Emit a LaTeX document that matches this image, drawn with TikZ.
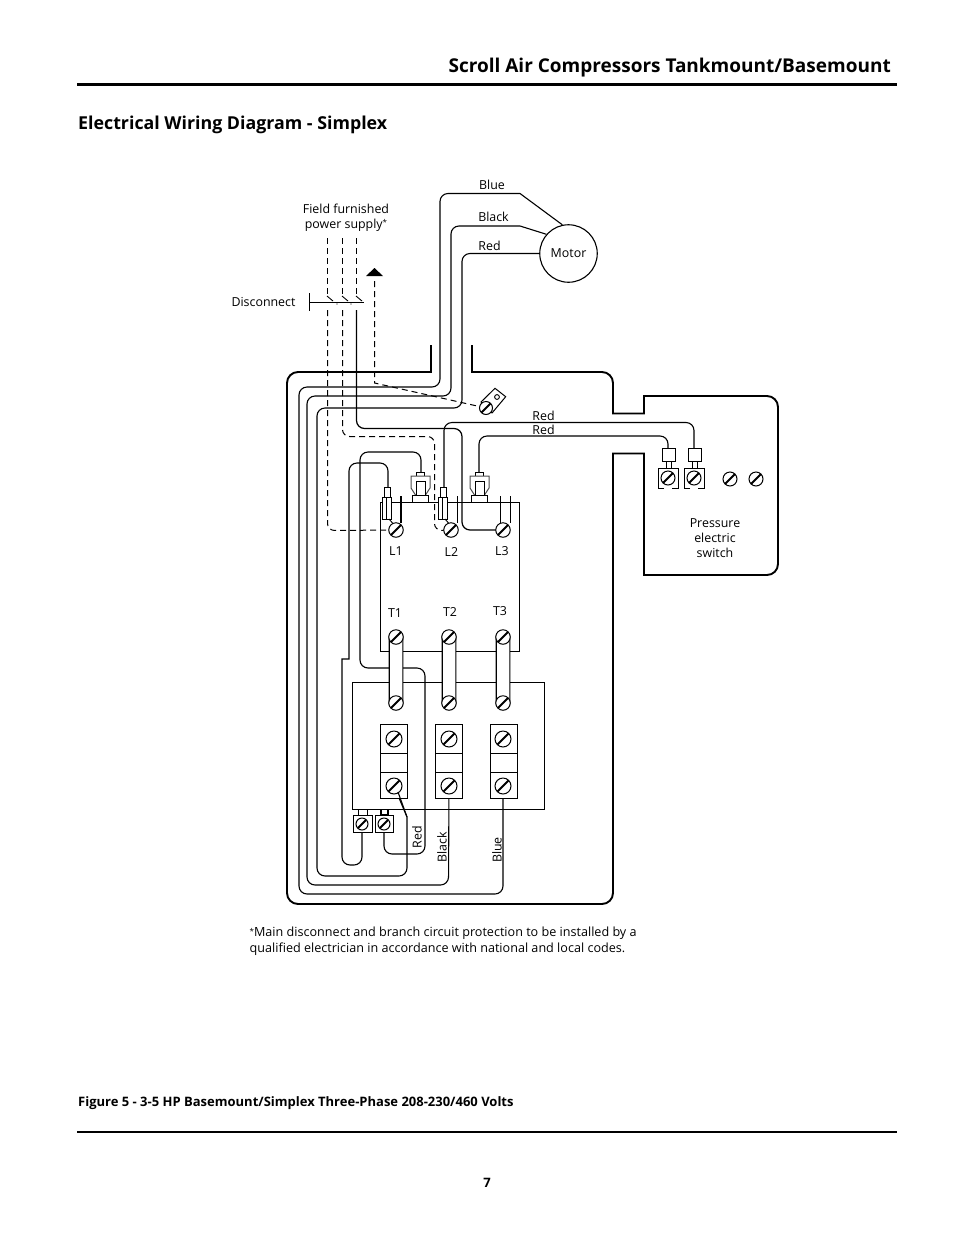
\documentclass[tikz,border=0pt]{standalone}
\usepackage{fontspec}
\setmainfont{Open Sans}
\tikzset{
  lbl/.style={inner sep=0pt,font=\fontsize{12.4}{15}\selectfont,text=black,align=center},
  wire/.style={draw=black,line width=1.1pt,rounded corners=8pt},
  case/.style={draw=black,line width=1.9pt},
  dashw/.style={draw=black,line width=1pt,dash pattern=on 6pt off 4pt,rounded corners=7pt},
  boxl/.style={draw=black,line width=1.1pt},
  blk/.style={draw=black,fill=white,line width=1pt},
  tube/.style={draw=black,fill=white,line width=1.1pt,rounded corners=6.5pt},
  screwh/.style={circle,draw=black,fill=white,line width=1pt,inner sep=0pt,minimum size=#1,
    path picture={\draw[line width=2pt] ([shift={(45:#1/2)}]path picture bounding box.center)
      -- ([shift={(225:#1/2)}]path picture bounding box.center);}},
  screwh/.default=15pt
}
\begin{document}
\begin{tikzpicture}[x=1pt,y=-1pt]
\useasboundingbox (0,0) rectangle (954,1235);
% page furniture
\node[inner sep=0pt,anchor=base east,font=\fontsize{19}{22}\selectfont\bfseries] (title) at (891,72) {Scroll Air Compressors Tankmount/Basemount};
\coordinate (r1a) at (77,84.5); \coordinate (r1b) at (897,84.5);
\draw[line width=2.6pt] (r1a) -- (r1b);
\node[inner sep=0pt,anchor=base west,font=\fontsize{17.8}{20}\selectfont\bfseries] (head) at (78,129.5) {Electrical Wiring Diagram - Simplex};
\node[inner sep=0pt,anchor=base west,font=\fontsize{13}{15}\selectfont\bfseries] (cap) at (78,1106) {Figure 5 - 3-5 HP Basemount/Simplex Three-Phase 208-230/460 Volts};
\coordinate (r2a) at (77,1132); \coordinate (r2b) at (897,1132);
\draw[line width=2.6pt] (r2a) -- (r2b);
\node[inner sep=0pt,font=\fontsize{13}{15}\selectfont\bfseries] (pg) at (487,1183) {7};
\node[inner sep=0pt,anchor=base west,align=left,font=\fontsize{12.6}{15.6}\selectfont] (foot) at (249.5,952.5) {\raisebox{2.5pt}{\fontsize{8}{8}\selectfont *}Main disconnect and branch circuit protection to be installed by a\\qualified electrician in accordance with national and local codes.};
% coordinates of screws
\foreach \n/\x/\y in {sL1/396/530,sL2/451/530,sL3/503/530,sT1/396/637,sT2/449/637,sT3/503/637,
  sB1/396/703,sB2/449/703,sB3/503/703,sU1/394/739,sU2/449/739,sU3/503/739,sD1/394/786,sD2/449/786,sD3/503/786,
  sS1/362/824,sS2/384/824,sP1/668/478,sP2/694/478,sP3/730/479,sP4/756/479,sG/486/408}
  {\coordinate (\n) at (\x,\y);}
% enclosure
\draw[case,sharp corners] (431,345) -- (431,372) [rounded corners=11pt] -- (287,372) -- (287,904) -- (613,904) [sharp corners] -- (613,453.5) -- (644,453.5) -- (644,575) [rounded corners=11pt] -- (778,575) -- (778,396) [sharp corners] -- (644,396) -- (644,413.5) -- (613,413.5) [rounded corners=11pt] -- (613,372) [sharp corners] -- (472,372) -- (472,345);
% boxes
\draw[boxl] (380.5,502.5) rectangle (519.5,651.5);
\draw[boxl] (352.5,682.5) rectangle (544.5,809.5);
% motor
\node[circle,draw=black,line width=1.1pt,minimum size=57.5pt,lbl,inner sep=0pt] (motor) at (568.5,253.5) {Motor};
% motor wires
\coordinate (bl1) at (520,193.5); \coordinate (bk1) at (520,226); \coordinate (rd1) at (462,253.5);
\draw[wire,sharp corners] (motor.102) -- (bl1) [rounded corners=8pt] -- (440,193.5) -- (440,387) -- (299,387) -- (299,894) -- (503,894) -- (sD3);
\draw[wire,sharp corners] (motor.139) -- (bk1) [rounded corners=8pt] -- (451,226) -- (451,396) -- (307,396) -- (307,885) -- (448.5,885) -- (sD2);
\draw[wire] (motor.180) -- (rd1) -- (462,408) -- (317,408) -- (317,876) -- (407,876) [sharp corners] -- (407,817) -- (sD1);
% disconnect
\coordinate (dL) at (309,302); \coordinate (dR) at (364,302);
\draw[line width=1pt] (dL) -- (dR);
\draw[line width=1pt] (309,293) -- (309,311);
\foreach \x in {327,342,356} {
  \coordinate (top\x) at (\x.5,238); \coordinate (bl\x) at (\x.5,295.5);
  \draw[dashw] (top\x) -- (bl\x);
  \draw[line width=.9pt] (\x,296) -- (\x+6,301);
}
\fill (337,304) circle (0.7pt); \fill (351,304) circle (0.7pt);
% feed lines
\draw[dashw] (327.5,310) -- (327.5,530.5) -- (sL1);
\draw[dashw] (342.5,310) -- (342.5,436.5) -- (434.5,436.5) -- (434.5,530.5) -- (sL2);
\draw[wire,line width=1.25pt] (356.5,310) -- (356.5,428.5) -- (462,428.5) -- (462,530) -- (sL3);
% ground
\coordinate (gnd) at (374.5,276);
\draw[dashw] (gnd) ++(0,5) [sharp corners] -- (374.5,383) -- (sG);
\fill (374.5,268) -- (383,276) -- (366,276) -- cycle;
% red wires
\coordinate (tP1) at (668,448); \coordinate (tP2) at (694,448);
\draw[wire] (444,490) -- (444,422.5) -- (694,422.5) -- (tP2);
\draw[wire] (479,474) -- (479,436) -- (668,436) -- (tP1);
% internal wires
\draw[wire] (388,490) -- (388,463) -- (349,463) [sharp corners] -- (349,659) -- (342,659) [rounded corners=8pt] -- (342,865) -- (362,865) -- (sS1);
\draw[wire] (421,474) -- (421,452) -- (360,452) -- (360,668) -- (425,668) -- (425,854) -- (384,854) -- (sS2);
% ticks at line terminals
\draw[line width=1.6pt] (401,496) -- (401,523);
\draw[line width=1pt] (457.5,496) -- (457.5,523);
\draw[line width=1pt] (500,496) -- (500,523);
\draw[line width=1pt] (510,496) -- (510,523);
% L1 and L2 ferrules
\foreach \x/\n in {382/a,438/b} {
  \draw[blk] (\x+2,487) rectangle (\x+8,497);
  \draw[blk] (\x,497) rectangle (\x+9,519);
  \draw[line width=.9pt] (\x+4,497) -- (\x+4,519);
  \draw[line width=.9pt] (\x+7,519) -- (\x+14,527);
}
% top connectors
\foreach \x/\n in {420.5/c,479.5/d} {
  \draw[blk] (\x-4,472) rectangle (\x+4,476);
  \draw[draw=black!70,fill=white,line width=1pt] (\x-9.5,476) -- (\x+9.5,476) -- (\x+9.5,488) -- (\x+5,495) -- (\x-5,495) -- (\x-9.5,488) -- cycle;
  \draw[blk] (\x-4.5,481) rectangle (\x+4.5,495);
  \draw[blk] (\x-8,495) rectangle (\x+8,502);
}
% tubes
\foreach \a/\b in {sT1/sB1,sT2/sB2,sT3/sB3} {
  \path (\a) ++(-6.8,-6.5) coordinate (p1);
  \path (\b) ++(6.8,6.5) coordinate (p2);
  \draw[tube] (p1) rectangle (p2);
}
% terminal blocks
\foreach \x in {380,435,490} {
  \draw[boxl,fill=white] (\x.5,724.5) rectangle (\x+27.5,798.5);
  \draw[boxl] (\x.5,753.5) -- (\x+27.5,753.5);
  \draw[boxl] (\x.5,772.5) -- (\x+27.5,772.5);
}
% small terminals
\draw[blk] (358,809.5) rectangle (367,815);
\draw[blk,line width=1.3pt] (381,809.5) rectangle (388,815);
\draw[blk] (353.5,815) rectangle (372,832);
\draw[blk] (375.5,815) rectangle (393,832);
% pressure terminals
\foreach \s/\c in {sP1/668,sP2/694} {
  \draw[blk] (\c-6,448) rectangle (\c+7,461);
  \draw[line width=1pt] (\c-2,461) -- (\c-2,467.5) (\c+3,461) -- (\c+3,467.5);
  \draw[draw=black,line width=1pt] (\c-4,488) -- (\c-10,488) -- (\c-10,468) -- (\c+10,468) -- (\c+10,488) -- (\c+4,488);
}
\draw[line width=1.6pt] (658.5,468) -- (658.5,488);
% ground lug
\draw[blk] (495,388.3) -- (505.7,396.7) -- (492,413) -- (481,402) -- cycle;
\draw[line width=.9pt,fill=white] (497,397) circle (2.4pt);
% screws
\foreach \n in {sL1,sL2,sL3,sT1,sT2,sT3,sB1,sB2,sB3} \node[screwh=14.5pt] (n\n) at (\n) {};
\foreach \n in {sU1,sU2,sU3,sD1,sD2,sD3} \node[screwh=16pt] (n\n) at (\n) {};
\foreach \n in {sS1,sS2} \node[screwh=12pt] (n\n) at (\n) {};
\foreach \n in {sP1,sP2,sP3,sP4} \node[screwh=14pt] (n\n) at (\n) {};
\node[screwh=13pt] (nsG) at (sG) {};
% wire from the lower left screw, over the block
\draw[line width=1.1pt] (sD1) ++(4,6) -- (407,817);
% labels
\node[lbl] (t1) at (346,217.5) {Field furnished\\power supply\raisebox{2.5pt}{\fontsize{8}{8}\selectfont *}};
\node[lbl] (t2) at (263.5,302) {Disconnect};
\node[lbl] (t3) at (492,185) {Blue};
\node[lbl] (t4) at (493.5,217) {Black};
\node[lbl] (t5) at (489.5,246) {Red};
\node[lbl] (t6) at (543.5,416) {Red};
\node[lbl] (t7) at (543.5,430) {Red};
\node[lbl] (t8) at (715,538) {Pressure\\electric\\switch};
\node[lbl] (l1) at (396,551) {L1};
\node[lbl] (l2) at (451.5,552) {L2};
\node[lbl] (l3) at (502,551) {L3};
\node[lbl] (t1a) at (395,613) {T1};
\node[lbl] (t2a) at (450,612) {T2};
\node[lbl] (t3a) at (500,611) {T3};
\node[lbl,rotate=90] (w1) at (417,837) {Red};
\node[lbl,rotate=90] (w2) at (442,847) {Black};
\node[lbl,rotate=90] (w3) at (497,850) {Blue};
\end{tikzpicture}
\end{document}
